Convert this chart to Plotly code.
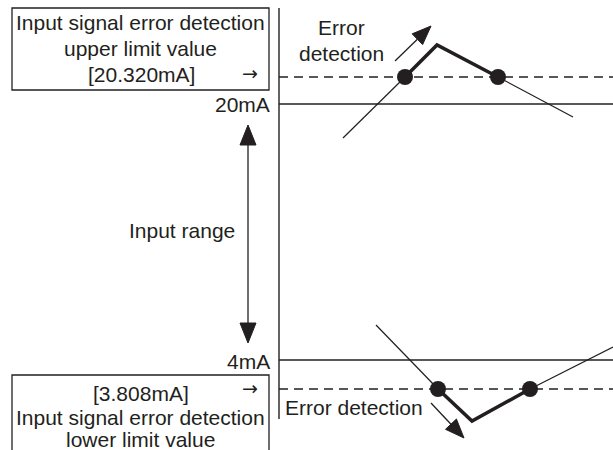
import math
import plotly.graph_objects as go

INK = "#231f20"
FONT = "Liberation Sans, Arial, sans-serif"
FS = 21

# ---- schematic data (diagram units; y grows downward) ----
axis_x = [279, 279]
axis_y = [8, 419]

limit_levels = [77, 389]          # error-detection limits (dashed)
range_levels = [104, 360]         # 20mA / 4mA (solid)
level_x = [279, 613]

upper_in_x, upper_in_y = [343, 405], [138, 77]
upper_err_x, upper_err_y = [405, 437, 498], [77, 45, 77]
upper_out_x, upper_out_y = [498, 573], [77, 117]

lower_in_x, lower_in_y = [376, 438], [325, 389]
lower_err_x, lower_err_y = [438, 472, 530], [389, 421, 389]
lower_out_x, lower_out_y = [530, 613], [389, 347]

detect_x = [405, 498, 438, 530]
detect_y = [77, 77, 389, 389]

range_arrow_x = [248, 248]
range_arrow_y = [125, 343]
up_arrow_x, up_arrow_y = [395, 431], [61, 26]
down_arrow_x, down_arrow_y = [431, 464], [403, 438]

fig = go.Figure()


def line(xs, ys, width=1.3, dash="solid"):
    fig.add_trace(go.Scatter(x=xs, y=ys, mode="lines",
                             line=dict(color=INK, width=width, dash=dash),
                             hoverinfo="skip"))


def head(x0, y0, x1, y1, L=20, Wd=16):
    """Filled triangular head at (x1,y1) pointing away from (x0,y0); returns base point."""
    dx, dy = x1 - x0, y1 - y0
    n = math.hypot(dx, dy)
    ux, uy = dx / n, dy / n
    bx, by = x1 - ux * L, y1 - uy * L
    px, py = -uy * Wd / 2, ux * Wd / 2
    fig.add_trace(go.Scatter(x=[x1, bx + px, bx - px, x1], y=[y1, by + py, by - py, y1],
                             mode="lines", fill="toself", fillcolor=INK,
                             line=dict(color=INK, width=1), hoverinfo="skip"))
    return bx, by


# axis
line(axis_x, axis_y, 1.4)
for y in range_levels:
    line(level_x, [y, y], 1.4)
for y in limit_levels:
    line(level_x, [y, y], 1.4, "9px,6px")

# signals
line(upper_in_x, upper_in_y, 1.2)
line(upper_err_x, upper_err_y, 3.5)
line(upper_out_x, upper_out_y, 1.2)
line(lower_in_x, lower_in_y, 1.2)
line(lower_err_x, lower_err_y, 3.5)
line(lower_out_x, lower_out_y, 1.2)

fig.add_trace(go.Scatter(x=detect_x, y=detect_y, mode="markers",
                         marker=dict(color=INK, size=16, line=dict(width=0)),
                         hoverinfo="skip"))

# range double arrow
b1 = head(range_arrow_x[1], range_arrow_y[1], range_arrow_x[0], range_arrow_y[0])
b2 = head(range_arrow_x[0], range_arrow_y[0], range_arrow_x[1], range_arrow_y[1])
line([b1[0], b2[0]], [b1[1], b2[1]], 1.3)

# error arrows
b = head(up_arrow_x[0], up_arrow_y[0], up_arrow_x[1], up_arrow_y[1], 19, 15)
line([up_arrow_x[0], b[0]], [up_arrow_y[0], b[1]], 1.3)
b = head(down_arrow_x[0], down_arrow_y[0], down_arrow_x[1], down_arrow_y[1], 19, 15)
line([down_arrow_x[0], b[0]], [down_arrow_y[0], b[1]], 1.3)

# boxes
fig.add_shape(type="rect", x0=12, y0=8, x1=269, y1=90,
              line=dict(color=INK, width=1.3), fillcolor="rgba(0,0,0,0)")
fig.add_shape(type="rect", x0=12, y0=375, x1=269, y1=480,
              line=dict(color=INK, width=1.3), fillcolor="rgba(0,0,0,0)")

texts = [
    ("Input signal error detection", 140, 22, "center"),
    ("upper limit value", 140, 48, "center"),
    ("[20.320mA]", 141, 74, "center"),
    ("20mA", 272, 104, "right"),
    ("Input range", 182, 230, "center"),
    ("4mA", 272, 361, "right"),
    ("[3.808mA]", 141, 393, "center"),
    ("Input signal error detection", 140, 417, "center"),
    ("lower limit value", 140, 439, "center"),
    ("Error", 341, 27, "center"),
    ("detection", 341, 53, "center"),
    ("Error detection", 283, 407, "left"),
]
for t, x, y, anc in texts:
    fig.add_annotation(x=x, y=y, text=t, showarrow=False, xanchor=anc, yanchor="middle",
                       font=dict(family=FONT, size=FS, color=INK))

for x, y in [(250, 73), (250, 388)]:
    fig.add_annotation(x=x, y=y, text="→", showarrow=False, xanchor="center", yanchor="middle",
                       font=dict(family="DejaVu Sans", size=19, color=INK))

fig.update_layout(
    width=613, height=450, autosize=False,
    margin=dict(l=0, r=0, t=0, b=0),
    paper_bgcolor="white", plot_bgcolor="white",
    showlegend=False,
    xaxis=dict(range=[0, 613], visible=False, fixedrange=True),
    yaxis=dict(range=[450, 0], visible=False, fixedrange=True),
)
fig.write_html("out.html", config={"displayModeBar": False},
               post_script="document.body.style.margin='0';document.body.style.overflow='hidden';")
